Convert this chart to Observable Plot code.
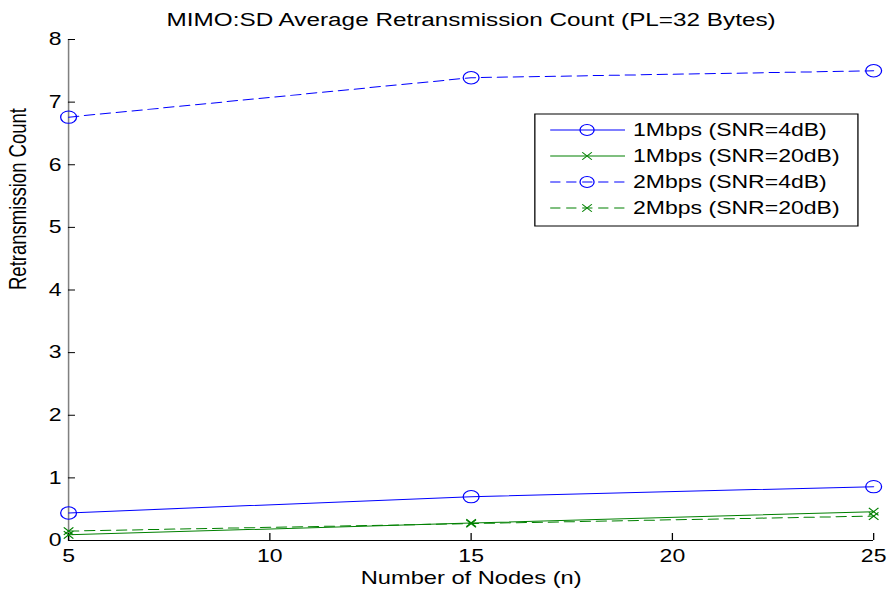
<!DOCTYPE html>
<html><head><meta charset="utf-8">
<script src="https://cdn.jsdelivr.net/npm/d3@7"></script>
<script src="https://cdn.jsdelivr.net/npm/@observablehq/plot@0.6"></script>
<style>body{margin:0;background:#fff}</style>
</head><body><div id="chart"></div>
<script>
const titleText = "MIMO:SD Average Retransmission Count (PL=32 Bytes)";
const xLabel = "Number of Nodes (n)";
const yLabel = "Retransmission Count";
const nodes = [5, 15, 25];
const seriesNames = ["1Mbps (SNR=4dB)", "1Mbps (SNR=20dB)", "2Mbps (SNR=4dB)", "2Mbps (SNR=20dB)"];
const rate1Snr4 = [0.44, 0.70, 0.86];
const rate1Snr20 = [0.09, 0.28, 0.46];
const rate2Snr4 = [6.76, 7.39, 7.50];
const rate2Snr20 = [0.15, 0.27, 0.39];
const xTicks = [5, 10, 15, 20, 25];
const yTicks = [0, 1, 2, 3, 4, 5, 6, 7, 8];
const colors = ["#0000ff", "#008000", "#0000ff", "#008000"];
const dashes = [null, null, "8,4.5", "8,4.5"];
const symbols = ["circle", "times", "circle", "times"];

const seriesValues = [rate1Snr4, rate1Snr20, rate2Snr4, rate2Snr20];
const data = seriesNames.flatMap((s, i) => nodes.map((n, j) => ({series: s, i, x: n, y: seriesValues[i][j]})));

const S = 1.28;              // horizontal stretch of the reference picture
const W0 = Math.round(888 / S);
const FONT = "'Liberation Sans', Arial, Helvetica, sans-serif";

function legendMark() {
  const g = d3.create("svg:g").attr("font-family", FONT).attr("text-anchor", "start");
  const x0 = 418, y0 = 114, w = 252.5, h = 112;
  g.append("rect").attr("x", x0).attr("y", y0).attr("width", w).attr("height", h)
    .attr("fill", "white").attr("stroke", "black").attr("stroke-width", 1);
  seriesNames.forEach((name, i) => {
    const y = 130 + i * 26;
    g.append("line").attr("x1", 430).attr("x2", 488.5).attr("y1", y).attr("y2", y)
      .attr("stroke", colors[i]).attr("stroke-width", 1)
      .attr("stroke-dasharray", dashes[i]);
    if (symbols[i] === "circle") {
      g.append("circle").attr("cx", 458.8).attr("cy", y).attr("r", 5.5)
        .attr("fill", "none").attr("stroke", colors[i]).attr("stroke-width", 1);
    } else {
      g.append("path").attr("transform", `translate(458.8,${y})`)
        .attr("d", d3.symbol(d3.symbolTimes, 3.5 * 3.5 * Math.PI)())
        .attr("fill", "none").attr("stroke", colors[i]).attr("stroke-width", 1);
    }
    g.append("text").attr("x", 494.7).attr("y", y).attr("dy", "0.35em")
      .attr("text-anchor", "start")
      .attr("font-size", 18).attr("fill", "black").text(name);
  });
  return g.node();
}

const marks = [
  Plot.ruleY([0], {stroke: "black", strokeWidth: 1}),
  Plot.ruleX([5], {stroke: "#808080", strokeWidth: 1.2}),
  Plot.axisX({ticks: xTicks, tickSize: -7, tickPadding: 16, label: null, fontSize: 18, color: "black", tickFormat: d => String(d)}),
  Plot.axisY({ticks: yTicks, tickSize: -5.5, tickPadding: 11, label: null, fontSize: 18, color: "black", tickFormat: d => String(d)}),
];
seriesNames.forEach((s, i) => {
  const d = data.filter(r => r.i === i);
  marks.push(Plot.line(d, {x: "x", y: "y", stroke: colors[i], strokeWidth: 1, strokeDasharray: dashes[i] || undefined}));
  marks.push(Plot.dot(d, {x: "x", y: "y", stroke: colors[i], symbol: symbols[i], r: symbols[i] === "circle" ? 6.2 : 3.5, strokeWidth: 1, fill: "none"}));
});
marks.push(
  Plot.text([titleText], {frameAnchor: "top", dy: -20, fontSize: 19, fill: "black", lineAnchor: "middle"}),
  Plot.text([xLabel], {frameAnchor: "bottom", dy: 38, fontSize: 18.5, fill: "black", lineAnchor: "middle"}),
  Plot.text([yLabel], {frameAnchor: "left", dx: -39, rotate: -90, fontSize: 18.5, fill: "black", lineAnchor: "middle"}),
  legendMark
);

const svg = Plot.plot({
  width: W0,
  height: 592,
  marginLeft: 53.1,
  marginRight: 11.7,
  marginTop: 39,
  marginBottom: 52,
  style: {fontFamily: FONT, background: "white", color: "black", overflow: "visible"},
  x: {domain: [5, 25], type: "linear"},
  y: {domain: [0, 8], type: "linear"},
  marks
});
svg.setAttribute("width", 888);
svg.setAttribute("height", 592);
svg.setAttribute("preserveAspectRatio", "none");
svg.style.width = "888px";
svg.style.height = "592px";
svg.style.maxWidth = "none";
document.getElementById("chart").appendChild(svg);
</script>
</body></html>
